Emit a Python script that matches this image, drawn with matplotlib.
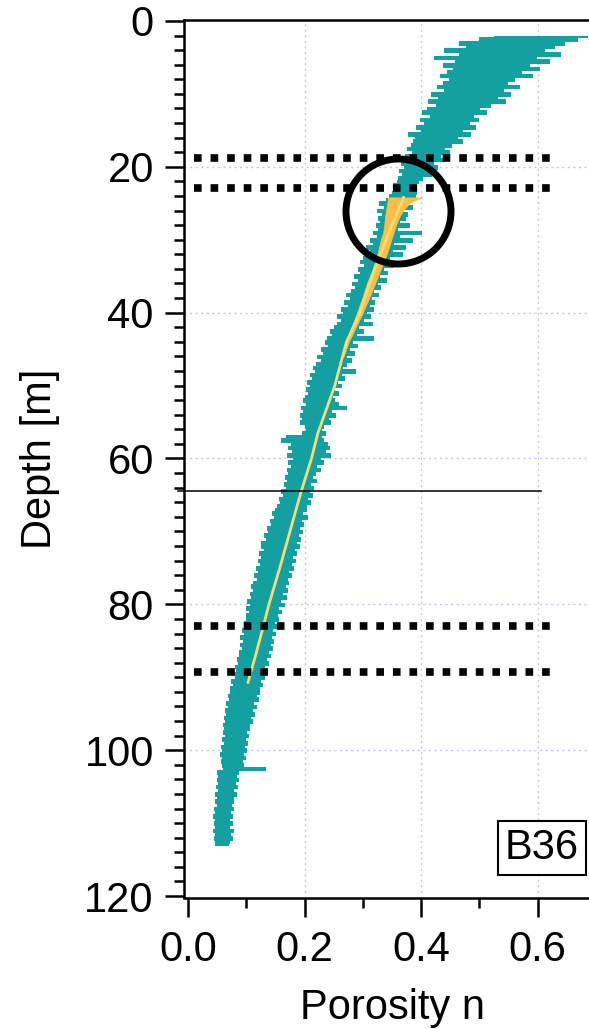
import numpy as np
import matplotlib
matplotlib.use("Agg")
import matplotlib.pyplot as plt
from matplotlib.ticker import MultipleLocator, FormatStrFormatter

# ---------- config ----------
teal = "#14a0a0"
orange = "#fbbf45"
trend_yellow = "#f3dc78"
grid_lavender = "#c4c4ec"

plt.rcParams['font.family'] = ['Liberation Sans', 'DejaVu Sans']
plt.rcParams['font.size'] = 30
# ----------------------------

# Porosity log B36: left / right envelope of the log, every 0.5 m from 2 m down
log_top = 2.0
log_step = 0.5
poro_lo = [
    0.525, 0.500, 0.466, 0.478, 0.440, 0.465, 0.422, 0.458, 0.437, 0.455,
    0.445, 0.432, 0.448, 0.438, 0.428, 0.440, 0.418, 0.430, 0.412, 0.425,
    0.410, 0.402, 0.415, 0.398, 0.405, 0.392, 0.400, 0.378, 0.390, 0.386,
    0.382, 0.376, 0.385, 0.372, 0.378, 0.366, 0.370, 0.362, 0.368, 0.360,
    0.358, 0.352, 0.355, 0.350, 0.345, 0.340, 0.328, 0.336, 0.325, 0.333,
    0.326, 0.330, 0.322, 0.327, 0.318, 0.324, 0.312, 0.318, 0.306, 0.312,
    0.306, 0.300, 0.296, 0.302, 0.292, 0.296, 0.285, 0.292, 0.282, 0.286,
    0.280, 0.272, 0.278, 0.268, 0.274, 0.262, 0.266, 0.255, 0.262, 0.256,
    0.250, 0.244, 0.248, 0.238, 0.235, 0.240, 0.228, 0.232, 0.222, 0.228,
    0.220, 0.214, 0.218, 0.210, 0.212, 0.205, 0.210, 0.203, 0.206, 0.200,
    0.198, 0.202, 0.194, 0.198, 0.192, 0.196, 0.193, 0.200, 0.203, 0.196,
    0.168, 0.160, 0.176, 0.172, 0.178, 0.170, 0.180, 0.172, 0.176, 0.170,
    0.172, 0.166, 0.170, 0.164, 0.168, 0.160, 0.163, 0.156, 0.158, 0.152,
    0.150, 0.144, 0.148, 0.140, 0.143, 0.136, 0.138, 0.130, 0.134, 0.126,
    0.126, 0.130, 0.122, 0.126, 0.120, 0.124, 0.116, 0.120, 0.114, 0.118,
    0.112, 0.108, 0.112, 0.106, 0.108, 0.102, 0.106, 0.100, 0.104, 0.100,
    0.100, 0.096, 0.098, 0.092, 0.096, 0.090, 0.094, 0.090, 0.093, 0.088,
    0.088, 0.084, 0.086, 0.080, 0.083, 0.078, 0.080, 0.074, 0.077, 0.072,
    0.072, 0.068, 0.070, 0.066, 0.068, 0.063, 0.066, 0.061, 0.064, 0.060,
    0.062, 0.060, 0.063, 0.058, 0.061, 0.056, 0.058, 0.055, 0.058, 0.056,
    0.058, 0.060, 0.050, 0.052, 0.049, 0.052, 0.048, 0.051, 0.047, 0.050,
    0.046, 0.049, 0.044, 0.047, 0.043, 0.046, 0.044, 0.047, 0.043, 0.046,
    0.045, 0.047, 0.046,
]
poro_hi = [
    0.685, 0.668, 0.645, 0.628, 0.612, 0.638, 0.598, 0.620, 0.585, 0.602,
    0.572, 0.590, 0.560, 0.548, 0.568, 0.540, 0.552, 0.530, 0.545, 0.518,
    0.500, 0.512, 0.490, 0.498, 0.482, 0.492, 0.470, 0.484, 0.462, 0.470,
    0.452, 0.440, 0.448, 0.432, 0.438, 0.420, 0.428, 0.412, 0.418, 0.402,
    0.395, 0.388, 0.384, 0.392, 0.390, 0.378, 0.372, 0.385, 0.368, 0.376,
    0.372, 0.362, 0.380, 0.358, 0.400, 0.362, 0.385, 0.352, 0.372, 0.350,
    0.368, 0.345, 0.340, 0.352, 0.334, 0.342, 0.328, 0.340, 0.324, 0.330,
    0.318, 0.326, 0.314, 0.320, 0.310, 0.318, 0.305, 0.312, 0.300, 0.316,
    0.292, 0.300, 0.288, 0.318, 0.282, 0.290, 0.276, 0.285, 0.272, 0.280,
    0.272, 0.265, 0.286, 0.262, 0.268, 0.256, 0.262, 0.250, 0.258, 0.248,
    0.250, 0.258, 0.272, 0.246, 0.252, 0.240, 0.244, 0.232, 0.228, 0.236,
    0.228, 0.232, 0.238, 0.242, 0.235, 0.244, 0.226, 0.232, 0.220, 0.226,
    0.218, 0.212, 0.220, 0.210, 0.214, 0.208, 0.212, 0.204, 0.210, 0.202,
    0.202, 0.196, 0.205, 0.194, 0.198, 0.190, 0.196, 0.188, 0.192, 0.186,
    0.190, 0.182, 0.186, 0.178, 0.183, 0.176, 0.180, 0.172, 0.176, 0.170,
    0.172, 0.166, 0.170, 0.162, 0.168, 0.158, 0.164, 0.155, 0.160, 0.152,
    0.154, 0.148, 0.152, 0.144, 0.150, 0.142, 0.146, 0.140, 0.145, 0.138,
    0.140, 0.134, 0.138, 0.130, 0.134, 0.128, 0.130, 0.124, 0.127, 0.122,
    0.122, 0.116, 0.120, 0.112, 0.116, 0.110, 0.114, 0.106, 0.110, 0.104,
    0.104, 0.100, 0.103, 0.098, 0.102, 0.096, 0.100, 0.094, 0.098, 0.093,
    0.095, 0.132, 0.086, 0.082, 0.086, 0.080, 0.084, 0.078, 0.082, 0.077,
    0.078, 0.074, 0.077, 0.072, 0.076, 0.070, 0.075, 0.071, 0.077, 0.072,
    0.076, 0.070, 0.068,
]
depth = log_top + log_step * np.arange(len(poro_lo))

# Compaction trend band (upper part) and trend line
wedge_depth = [24.2, 24.5, 25.0, 26.0, 27.0, 28.0, 29.0, 30.0, 32.0, 34.0, 36.0, 38.0, 40.0, 42.0, 44.0, 46.0]
wedge_left = [0.343, 0.343, 0.342, 0.340, 0.338, 0.337, 0.335, 0.331, 0.325, 0.317, 0.307, 0.299, 0.290, 0.281, 0.271, 0.264]
wedge_right = [0.402, 0.392, 0.380, 0.369, 0.362, 0.357, 0.353, 0.349, 0.341, 0.331, 0.321, 0.311, 0.300, 0.288, 0.276, 0.267]
trend_depth = [24.2, 30.0, 35.0, 40.0, 44.0, 50.0, 56.5, 60.0, 64.6, 70.0, 74.6, 80.0, 83.1, 87.0, 90.7]
trend_poro = [0.370, 0.340, 0.316, 0.295, 0.272, 0.252, 0.223, 0.212, 0.194, 0.175, 0.159, 0.139, 0.129, 0.116, 0.103]

# Marker horizons
dotted_depths = [18.8, 22.9, 83.0, 89.3]
boundary_depth = 64.4
circle_x, circle_depth = 0.361, 26.0
well_name = "B36"

# ---------- figure ----------
fig = plt.figure(figsize=(5.89, 10.29), dpi=100)
ax = fig.add_axes([184 / 589, 1 - 897.5 / 1029, 405 / 589, 878 / 1029])
ax.set_xlim(-0.0069, 0.6884)
ax.set_ylim(120.2, -0.2)

# dotted grid
for gx in [0.2, 0.4, 0.6]:
    ax.axvline(gx, color=grid_lavender, lw=1.0, linestyle=(0, (1.5, 2.5)), zorder=0.5)
for gy in [20, 40, 60, 80, 100]:
    ax.axhline(gy, color=grid_lavender, lw=1.0, linestyle=(0, (1.5, 2.5)), zorder=0.5)

# porosity log (step fill gives the spiky log look)
ax.fill_betweenx(depth, poro_lo, poro_hi, step='mid', color=teal, lw=0.8, zorder=2)

# trend band and line
ax.fill_betweenx(wedge_depth, wedge_left, wedge_right, color=orange, lw=0.5, zorder=3)
ax.plot(trend_poro, trend_depth, color=trend_yellow, lw=2.0, zorder=4)

# horizons
for d in dotted_depths:
    ax.plot([0.010, 0.623], [d, d], color='black', lw=5.5,
            linestyle=(0, (1.0, 1.17)), dash_capstyle='butt', zorder=5)
ax.plot([-0.017, 0.606], [boundary_depth, boundary_depth], color='black', lw=1.1,
        zorder=5, clip_on=False)

# highlighted zone
ax.plot([circle_x], [circle_depth], marker='o', markersize=75.6, markerfacecolor='none',
        markeredgecolor='black', markeredgewidth=5.0, zorder=6)

ax.text(0.608, 113.4, well_name, ha='center', va='center', zorder=7,
        bbox=dict(boxstyle='square,pad=0.16', fc='white', ec='black', lw=1.5))

# axes styling
ax.spines['right'].set_visible(False)
for side in ['left', 'top', 'bottom']:
    ax.spines[side].set_linewidth(1.8)
ax.yaxis.set_major_locator(MultipleLocator(20))
ax.yaxis.set_minor_locator(MultipleLocator(2))
ax.xaxis.set_major_locator(MultipleLocator(0.2))
ax.xaxis.set_minor_locator(MultipleLocator(0.1))
ax.xaxis.set_major_formatter(FormatStrFormatter('%.1f'))
ax.tick_params(which='major', length=13.7, width=1.8, direction='out', pad=8)
ax.tick_params(which='minor', length=7.5, width=1.8, direction='out')
ax.tick_params(axis='x', which='major', pad=10)

ax.set_ylabel("Depth [m]")
ax.yaxis.label.set_verticalalignment('center')
ax.yaxis.set_label_coords(-0.356, 0.5)
ax.set_xlabel("Porosity n")
ax.xaxis.label.set_verticalalignment('baseline')
ax.xaxis.set_label_coords(0.514, -0.1383)

fig.savefig("out.png", dpi=100)
